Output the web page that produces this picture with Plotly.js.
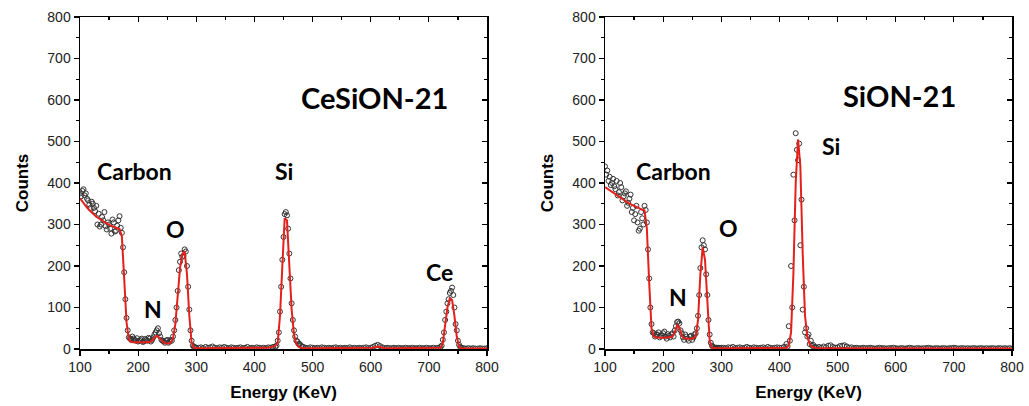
<!DOCTYPE html>
<html>
<head>
<meta charset="utf-8">
<script src="https://cdn.plot.ly/plotly-3.0.1.min.js"></script>
<style>html,body{margin:0;padding:0;background:#fff;}#chart{width:1029px;height:406px;}</style>
</head>
<body>
<div id="chart"></div>
<script>
// Energy grid (KeV) shared by both spectra
const energy = [
100,104,108,112,116,120,124,128,132,136,140,144,148,152,156,160,164,168,
172,176,180,184,188,192,196,200,204,208,212,216,220,224,228,232,236,240,244,248,252,256,260,264,268,272,276,280,284,288,292,296,300,
304,308,312,316,320,324,328,332,336,340,344,348,352,356,360,364,368,372,376,380,384,388,392,396,400,404,408,412,416,420,424,428,432,436,
440,444,448,452,456,460,464,468,472,476,480,484,
488,492,496,500,504,508,512,516,520,524,528,532,536,540,544,548,552,556,560,564,568,572,576,580,584,588,592,596,600,
604,608,612,616,620,
624,628,632,636,640,644,648,652,656,660,664,668,672,676,680,684,688,692,696,700,704,708,712,716,
720,724,728,732,736,740,744,748,752,756,
760,764,768,772,776,780,784,788,792,796,800];

// Intermediate energies (extra channels in feature regions)
const energyLow = [
102,106,110,114,118,122,126,130,134,138,142,146,150,154,158,162,166,170,
174,178,182,186,190,194,198,202,206,210,214,218,222,226,230,234,238,242,246,250,254,258,262,266,270,274,278,282,286,290,294,298];
const energySiCe = [438,442,446,450,454,458,462,466,470,474,478,482];
const energyCe = [722,726,730,734,738,742,746,750,754];
const energySiSion = [414,418,422,426,430,434,438,442,446,450,454,458,462];

// CeSiON-21 measured counts
const ceData = [
375,381,370,362,348,355,340,345,326,300,310,296,305,290,312,283,297,320,
280,185,75,28,22,25,20,18,22,17,24,20,25,22,35,45,38,22,18,20,15,22,30,70,140,210,222,240,200,95,20,5,3,
3,4,2,5,3,4,6,3,2,4,3,5,3,2,4,3,2,3,4,2,3,5,2,3,2,4,3,2,3,2,4,3,5,6,
20,90,215,325,322,230,110,45,20,12,8,5,
3,2,4,3,2,3,2,4,3,2,3,2,3,4,2,3,2,3,2,4,2,3,2,3,2,3,4,2,3,
5,8,10,7,4,
2,3,2,2,3,2,3,2,2,3,2,2,3,2,2,3,2,2,3,2,2,3,2,3,
5,22,70,110,135,148,100,45,10,3,
2,1,2,1,2,1,1,2,1,1,2];
const ceDataLow = [
368,385,375,358,340,350,332,300,295,318,330,288,300,278,305,285,310,292,
245,120,45,25,30,22,26,20,25,18,22,27,18,28,40,50,30,20,15,22,18,20,45,100,190,230,225,235,150,45,8,4];
const ceDataSi = [8,40,150,270,330,290,170,70,30,18,12,6];
const ceDataCe = [8,40,90,120,140,130,60,20,5];

// CeSiON-21 fitted curve
const ceFit = [
363,355,348,341,335,329,324,319,315,311,307,304,301,298,295,293,291,289,
272,170,65,22,17,16,16,15,15,15,16,16,17,20,27,32,28,20,15,13,13,15,25,60,130,195,228,236,180,80,15,3,2,
2,2,2,2,2,2,2,2,2,2,2,2,2,2,2,2,2,2,2,2,2,2,2,2,2,2,2,2,2,2,3,4,6,8,
15,80,200,315,310,215,95,35,12,5,3,2,
2,2,2,2,2,2,2,2,2,2,2,2,2,2,2,2,2,2,2,2,2,2,2,2,2,2,2,2,2,
3,5,6,5,3,
2,2,2,2,2,2,2,2,2,2,2,2,2,2,2,2,2,2,2,2,2,2,2,2,
3,15,55,100,122,118,80,30,5,1,
1,1,1,1,1,1,1,1,1,1,1];

// SiON-21 measured counts
const sionData = [
440,430,415,400,392,405,378,390,368,380,352,372,340,325,305,290,315,345,
305,170,60,38,35,40,32,38,30,36,28,38,45,65,62,38,22,30,20,32,28,38,80,195,262,240,130,35,8,
3,3,3,3,3,2,4,3,5,2,3,4,2,3,5,3,2,4,3,2,3,4,2,5,3,2,3,4,3,
3,5,12,55,200,420,520,455,250,95,40,30,12,8,
4,3,5,3,6,4,8,9,5,3,4,7,8,9,6,3,4,2,3,2,
2,3,2,2,3,2,1,2,3,2,2,1,2,2,3,2,1,2,2,1,2,3,2,1,2,2,1,2,2,3,2,1,2,2,1,2,2,1,2,2,3,2,1,2,2,1,2,1,2,2,1,2,2,1,2,1,2,2,1,2,2,1,2,1,2,1,2,1,2,1,2,1,2,1,2];
const sionDataLow = [
420,405,395,410,385,370,400,358,375,345,362,330,310,345,285,330,300,335,
240,100,40,30,35,28,33,42,25,32,35,30,55,66,45,28,35,25,30,22,35,50,130,245,250,180,70,15,5,3,3,2];
const sionDataSi = [6,20,100,310,480,495,360,150,50,35,20,10,5];

// SiON-21 fitted curve
const sionFit = [
390,386,382,378,374,370,366,362,358,355,352,349,346,343,340,338,336,334,
290,160,50,30,28,28,27,27,27,28,28,30,40,57,52,32,26,25,25,25,26,30,70,180,245,215,110,20,3,
2,2,2,2,2,2,2,2,2,2,2,2,2,2,2,2,2,2,2,2,2,2,2,2,2,2,2,2,2,2,
2,3,8,40,180,400,505,440,230,80,30,12,5,3,
2,2,2,2,2,2,2,2,2,2,2,2,2,2,2,2,2,2,2,2,
1,1,1,1,1,1,1,1,1,1,1,1,1,1,1,1,1,1,1,1,1,1,1,1,1,1,1,1,1,1,1,1,1,1,1,1,1,1,1,1,1,1,1,1,1,1,1,1,1,1,1,1,1,1,1,1,1,1,1,1,1,1,1,1,1];

// Labels
const leftLabels = [
  {text:'Carbon', x:193, y:429, size:23},
  {text:'N', x:226, y:96, size:23},
  {text:'O', x:265, y:289, size:23},
  {text:'Si', x:451, y:429, size:23},
  {text:'Ce', x:719, y:186, size:23},
  {text:'CeSiON-21', x:607, y:607, size:29}
];
const rightLabels = [
  {text:'Carbon', x:217, y:429, size:23},
  {text:'N', x:226, y:125, size:23},
  {text:'O', x:312, y:292, size:23},
  {text:'Si', x:489, y:489, size:23},
  {text:'SiON-21', x:607, y:610, size:29}
];

const RED = '#e3201b';
function pts(x, y, xa, ya) {
  return {x:x, y:y, xaxis:xa, yaxis:ya, type:'scatter', mode:'markers',
    marker:{symbol:'circle-open', size:5, color:'#333', line:{width:1, color:'#333'}},
    hoverinfo:'skip', showlegend:false};
}
function fit(x, y, xa, ya) {
  return {x:x, y:y, xaxis:xa, yaxis:ya, type:'scatter', mode:'lines',
    line:{color:RED, width:2}, hoverinfo:'skip', showlegend:false};
}
function dummy(xa, ya) {
  return {x:[null], y:[null], xaxis:xa, yaxis:ya, type:'scatter', mode:'markers', showlegend:false, hoverinfo:'skip'};
}

const data = [
  pts(energy, ceData, 'x', 'y'),
  pts(energyLow, ceDataLow, 'x', 'y'),
  pts(energySiCe, ceDataSi, 'x', 'y'),
  pts(energyCe, ceDataCe, 'x', 'y'),
  fit(energy, ceFit, 'x', 'y'),
  pts(energy, sionData, 'x2', 'y2'),
  pts(energyLow, sionDataLow, 'x2', 'y2'),
  pts(energySiSion, sionDataSi, 'x2', 'y2'),
  fit(energy, sionFit, 'x2', 'y2'),
  dummy('x3', 'y3'), dummy('x4', 'y4')
];

const tickFont = {family:'"Liberation Sans", Arial, sans-serif', size:14, color:'#222'};
const titleFont = {family:'"Liberation Sans", Arial, sans-serif', size:17, color:'#000', weight:'bold'};
const minorX = {dtick:50, ticks:'outside', ticklen:3, tickcolor:'#000', tickwidth:1.2};
const minorY = {dtick:50, ticks:'outside', ticklen:3, tickcolor:'#000', tickwidth:1.2};
const minorXin = {dtick:50, ticks:'inside', ticklen:3, tickcolor:'#000', tickwidth:1.2};

function xMain(dom, anchor) {
  return {domain:dom, anchor:anchor, range:[100,800], dtick:100, tick0:0, ticks:'outside', ticklen:5,
    tickwidth:1.2, tickcolor:'#000', showline:true, linecolor:'#000', linewidth:1.5, showgrid:false,
    zeroline:false, tickfont:tickFont, minor:minorX, automargin:false,
    title:{text:'Energy (KeV)', font:titleFont, standoff:12}};
}
function yMain(dom, anchor) {
  return {domain:dom, anchor:anchor, range:[0,800], dtick:100, ticks:'outside', ticklen:5,
    tickwidth:1.2, tickcolor:'#000', showline:true, linecolor:'#000', linewidth:1.5, showgrid:false,
    zeroline:false, tickfont:tickFont, minor:minorY, automargin:false,
    title:{text:'Counts', font:titleFont, standoff:14}};
}
function xTop(over, anchor) {
  return {overlaying:over, anchor:anchor, side:'top', range:[100,800], dtick:100, ticks:'inside', ticklen:5,
    tickwidth:1.2, tickcolor:'#000', showline:true, linecolor:'#000', linewidth:1.5, showgrid:false,
    zeroline:false, showticklabels:false, minor:minorXin};
}
function yRight(over, anchor) {
  return {overlaying:over, anchor:anchor, side:'right', range:[0,800], dtick:100, ticks:'inside', ticklen:5,
    tickwidth:1.2, tickcolor:'#000', showline:true, linecolor:'#000', linewidth:1.5, showgrid:false,
    zeroline:false, showticklabels:false, minor:{dtick:50, ticks:'inside', ticklen:3, tickcolor:'#000', tickwidth:1.2}};
}

const yDom = [57/406, 389/406];
const annFont = (s) => ({family:'Lato, "Open Sans", sans-serif', size:s, color:'#000', weight:'bold'});
const annotations = [];
leftLabels.forEach(l => annotations.push({xref:'x', yref:'y', x:l.x, y:l.y, text:'<b>'+l.text+'</b>', showarrow:false, font:annFont(l.size)}));
rightLabels.forEach(l => annotations.push({xref:'x2', yref:'y2', x:l.x, y:l.y, text:'<b>'+l.text+'</b>', showarrow:false, font:annFont(l.size)}));

const layout = {
  width:1029, height:406,
  margin:{l:0, r:0, t:0, b:0},
  paper_bgcolor:'#fff', plot_bgcolor:'#fff',
  showlegend:false,
  xaxis: xMain([80/1029, 487/1029], 'y'),
  yaxis: yMain(yDom, 'x'),
  xaxis2: xMain([605/1029, 1012/1029], 'y2'),
  yaxis2: yMain(yDom, 'x2'),
  xaxis3: xTop('x', 'y3'),
  yaxis3: yRight('y', 'x3'),
  xaxis4: xTop('x2', 'y4'),
  yaxis4: yRight('y2', 'x4'),
  annotations: annotations
};

Plotly.newPlot('chart', data, layout, {staticPlot:true, displayModeBar:false});
</script>
</body>
</html>
